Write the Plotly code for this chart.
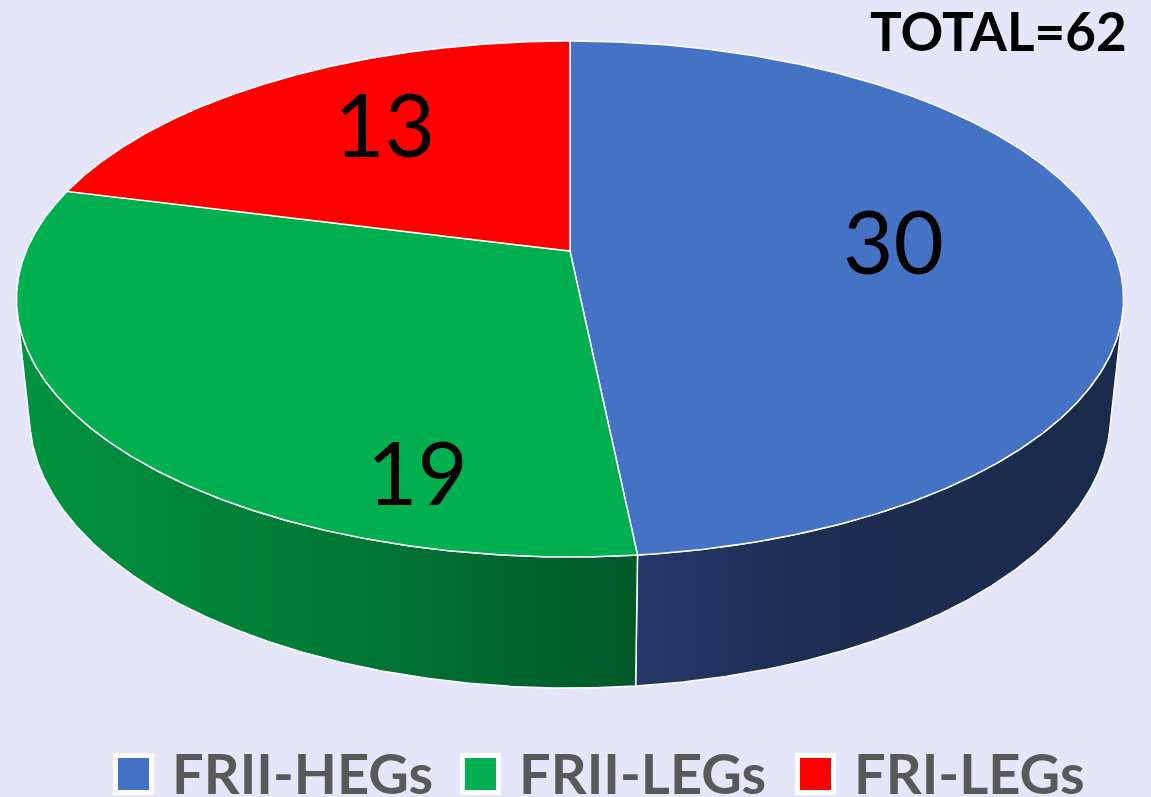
import numpy as np
import plotly.graph_objects as go

# ---------------- data ----------------
categories = ["FRII-HEGs", "FRII-LEGs", "FRI-LEGs"]
values = [30, 19, 13]
total_text = "TOTAL=62"

# ---------------- styles ----------------
top_colors = ["#4472C4", "#00B050", "#FF0000"]
side_scales = [
    [[0, "#24386A"], [0.35, "#1D2E53"], [1, "#1A2A4B"]],
    [[0, "#00933F"], [0.5, "#007A35"], [1, "#005826"]],
    [[0, "#C00000"], [1, "#800000"]],
]
BG = "#E6E6FA"
W, H = 1151, 797

# camera (perspective) constants, screen in pixel-like axis units
CX, CY = 570.0, 251.0
ELEV = np.radians(27.25)
DIST = 4.779
FOCAL = 2599.0
DEPTH = 0.2417
S_E, C_E = np.sin(ELEV), np.cos(ELEV)

# label placement (layout)
label_pos = [(893, 240), (417, 471), (384, 123)]
legend_x = [113, 460, 795]


def project(theta, z, r=1.0):
    X = r * np.sin(theta)
    Y = r * np.cos(theta)
    d = DIST + Y * C_E - z * S_E
    px = CX + FOCAL * X / d
    py = CY - FOCAL * (Y * S_E + z * C_E) / d
    return px, py


total = float(sum(values))
cum = np.concatenate([[0.0], np.cumsum(values)]) / total * 2 * np.pi

# visible range of the outer wall
tv = np.arccos(-1.0 / (DIST * C_E))
vis0, vis1 = tv, 2 * np.pi - tv

fig = go.Figure()

# side walls
for i in range(len(values)):
    a0, a1 = max(cum[i], vis0), min(cum[i + 1], vis1)
    if a1 <= a0:
        continue
    th = np.linspace(a0, a1, 240)
    xt, yt = project(th, 0.0)
    xb, yb = project(th[::-1], -DEPTH)
    xs = np.concatenate([xt, xb, xt[:1]])
    ys = np.concatenate([yt, yb, yt[:1]])
    fig.add_trace(go.Scatter(
        x=xs, y=ys, mode="lines", fill="toself",
        fillcolor=top_colors[i],
        fillgradient=dict(type="horizontal", colorscale=side_scales[i]),
        line=dict(color="white", width=1.5),
        hoverinfo="skip", showlegend=False))

# top faces
for i in range(len(values)):
    th = np.linspace(cum[i], cum[i + 1], 400)
    xa, ya = project(th, 0.0)
    x0, y0 = project(0.0, 0.0, r=0.0)
    xs = np.concatenate([[x0], xa, [x0]])
    ys = np.concatenate([[y0], ya, [y0]])
    fig.add_trace(go.Scatter(
        x=xs, y=ys, mode="lines", fill="toself",
        fillcolor=top_colors[i],
        line=dict(color="white", width=1.5),
        name=categories[i], hoverinfo="skip", showlegend=False))

annotations = []
for i, v in enumerate(values):
    lx, ly = label_pos[i]
    annotations.append(dict(
        x=lx, y=ly, xref="x", yref="y", text=str(v), showarrow=False,
        xanchor="center", yanchor="middle",
        font=dict(family="Lato", size=87, color="#000000")))

annotations.append(dict(
    x=1129, y=30, xref="x", yref="y", text="<b>%s</b>" % total_text,
    showarrow=False, xanchor="right", yanchor="middle",
    font=dict(family="Lato", size=53, color="#000000")))

shapes = []
for i, name in enumerate(categories):
    lx = legend_x[i]
    shapes.append(dict(
        type="rect", xref="x", yref="y",
        x0=lx + 2.5, x1=lx + 38.5, y0=755.5, y1=792.5,
        fillcolor=top_colors[i], line=dict(color="white", width=5)))
    annotations.append(dict(
        x=lx + 57, y=772, xref="x", yref="y", text="<b>%s</b>" % name,
        showarrow=False, xanchor="left", yanchor="middle",
        font=dict(family="Lato", size=56, color="#595959")))

fig.update_layout(
    width=W, height=H,
    margin=dict(l=0, r=0, t=0, b=0),
    paper_bgcolor=BG, plot_bgcolor=BG,
    xaxis=dict(range=[0, W], visible=False, fixedrange=True),
    yaxis=dict(range=[H, 0], visible=False, fixedrange=True),
    annotations=annotations, shapes=shapes,
    showlegend=False,
)

fig.write_html(
    "out.html",
    config={"displayModeBar": False, "staticPlot": True},
    post_script="document.body.style.margin='0';document.body.style.overflow='hidden';",
)
